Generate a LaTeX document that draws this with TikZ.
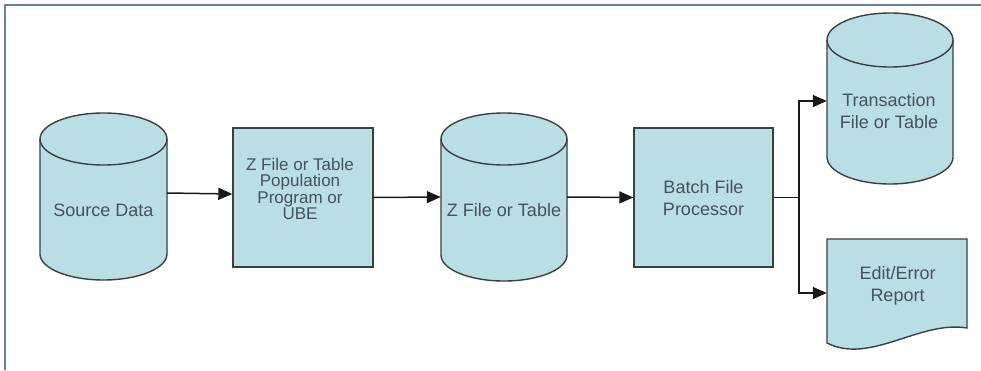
\documentclass[tikz,border=0pt]{standalone}
\usepackage{fontspec}
\setmainfont{Liberation Sans}
\usetikzlibrary{arrows.meta}
\definecolor{shapefill}{HTML}{B9DEE3}
\definecolor{shapeline}{HTML}{3A3F42}
\definecolor{txt}{HTML}{46545A}
\definecolor{frame}{HTML}{6B7FA3}
\tikzset{
  shapeshape/.style={fill=shapefill, draw=shapeline, line width=1.4pt},
  lbl/.style={text=txt, font=\fontsize{18}{22}\selectfont, align=center, inner sep=0pt},
  holder/.style={draw=none, inner sep=0pt, rectangle},
  flow/.style={draw=black!90, line width=1.5pt, -{Triangle[length=14pt,width=12pt]}},
  flowline/.style={draw=black!90, line width=1.5pt}
}
% cylinder: name, cx, top, bottom, rx, ry
\newcommand{\mycyl}[6]{%
  \path[shapeshape] (#2-#5,#3-#6) -- (#2-#5,#4+#6)
     arc[start angle=180, end angle=360, x radius=#5, y radius=#6]
     -- (#2+#5,#3-#6)
     arc[start angle=0, end angle=180, x radius=#5, y radius=#6] -- cycle;
  \draw[shapeline, line width=1.4pt] (#2-#5,#3-#6)
     arc[start angle=180, end angle=360, x radius=#5, y radius=#6];
  \node[holder, minimum width=2*#5 pt, minimum height=#3-#4 pt] (#1) at (#2,{(#3+#4)/2}) {};
}
\begin{document}
\begin{tikzpicture}[x=1pt,y=1pt]
\useasboundingbox (0,0) rectangle (981,370);
% frame
\draw[frame, line width=2pt] (5,0) -- (5,365) -- (981,365);

% cylinders
\mycyl{src}{103.5}{257}{90}{63.5}{26}
\node[lbl] (srct) at (103.5,160) {Source Data};

\mycyl{zft}{504}{257}{89}{63}{26}
\node[lbl] (zftt) at (504,160) {Z File or Table};

\mycyl{trn}{890}{357}{186}{63}{27}
\node[lbl] (trnt) at (889,258.5) {Transaction\\File or Table};

% boxes
\node[shapeshape, rectangle, minimum width=140pt, minimum height=139pt] (pop) at (303,172.5) {};
\node[lbl, font=\fontsize{17}{16.5}\selectfont] (popt) at (300,181) {Z File or Table\\Population\\Program or\\UBE};

\node[shapeshape, rectangle, minimum width=139pt, minimum height=139pt] (bfp) at (703.5,172.5) {};
\node[lbl] (bfpt) at (703.5,172) {Batch File\\Processor};

% document
\path[shapeshape] (827,27) -- (827,131) -- (967,131) -- (967,42)
   .. controls (920,50) and (870,5) .. (827,27) -- cycle;
\node[holder, minimum width=140pt, minimum height=104pt] (rep) at (897,79) {};
\node[lbl] (rept) at (897.5,84.5) {Edit/Error\\Report};

% connectors
\draw[flow] ([yshift=3.5pt]src.east) -- ([yshift=3.5pt]pop.west);
\draw[flow] (pop.east) -- (zft.west);
\draw[flow] (zft.east) -- (bfp.west);
\coordinate (jn) at (799,172.5);
\draw[flowline] (bfp.east) -- (jn);
\draw[flow] (jn) |- ([yshift=-2.5pt]trn.west);
\draw[flow] (jn) |- ([yshift=-2pt]rep.west);
\end{tikzpicture}
\end{document}
